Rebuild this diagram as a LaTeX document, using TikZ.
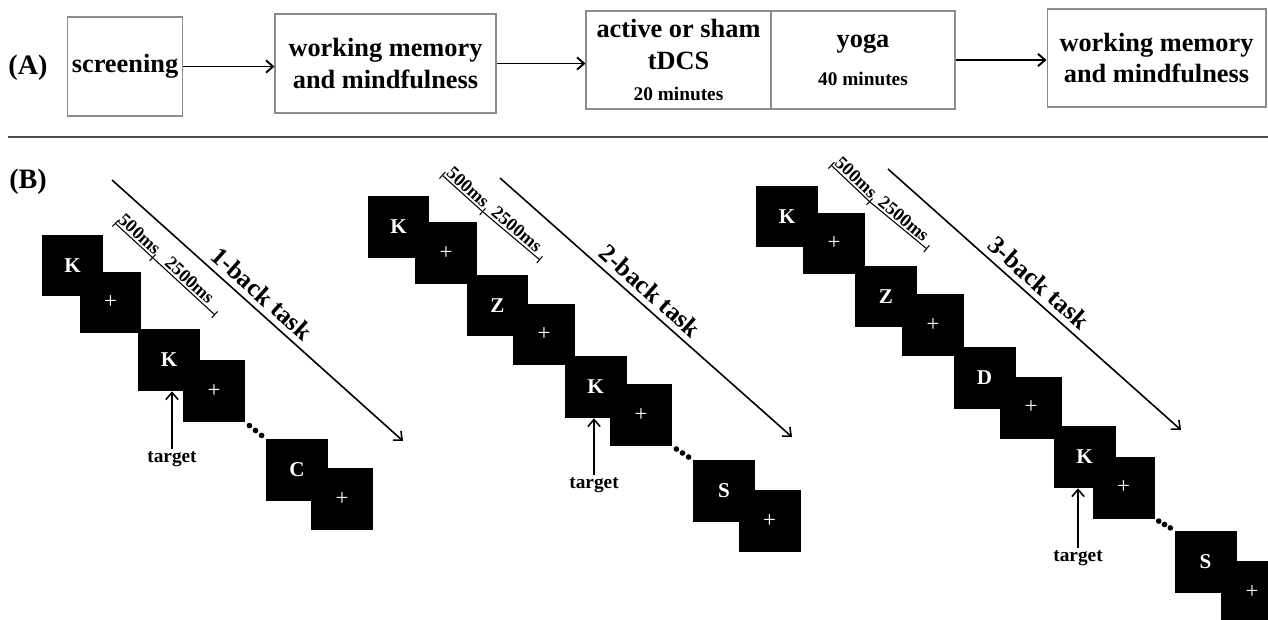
\documentclass[tikz,border=0pt]{standalone}
\usepackage{fontspec}
\setmainfont{Liberation Serif}
\usetikzlibrary{arrows.meta,calc}
\begin{document}
\begin{tikzpicture}[x=0.02cm,y=-0.02cm,>={Straight Barb[length=4pt,width=7pt]},
  box/.style={draw=black!45,line width=0.6pt,inner sep=2pt,align=center,font=\bfseries\fontsize{15}{18}\selectfont},
  stim/.style={fill=black,text=white,minimum size=1.24cm,inner sep=0pt,font=\bfseries\fontsize{12}{14}\selectfont},
  fix/.style={stim,font=\fontsize{13}{15}\selectfont},
  flow/.style={->,line width=1.1pt},
  time/.style={->,line width=0.9pt},
  tick/.style={line width=0.6pt},
  lbl/.style={font=\bfseries\fontsize{14.5}{17}\selectfont},
  ms/.style={font=\bfseries\fontsize{10.5}{12}\selectfont,inner sep=1pt}]
  \useasboundingbox (0,0) rectangle (1268,619);
  % (A) session
  \node[font=\bfseries\fontsize{16}{19}\selectfont] (la) at (28,68){(A)};
  \node[box,minimum width=2.3cm,minimum height=1.98cm] (b1) at (125,66.5){screening};
  \node[box,minimum width=4.42cm,minimum height=1.98cm] (b2) at (385.5,63.5){working memory\\and mindfulness};
  \node[box,minimum width=3.7cm,minimum height=1.96cm] (b3) at (678.5,60){active or sham\\tDCS\\{\fontsize{11}{13}\selectfont 20 minutes}};
  \node[box,minimum width=3.68cm,minimum height=1.96cm] (b4) at (863,60){yoga\\[4pt]{\fontsize{11}{13}\selectfont 40 minutes}};
  \node[box,minimum width=4.38cm,minimum height=1.96cm] (b5) at (1156.5,58){working memory\\and mindfulness};
  \draw[flow] (b1.east) -- (b1.east -| b2.west);
  \draw[flow] (b2.east) -- (b2.east -| b3.west);
  \draw[flow] (b4.east) -- (b4.east -| b5.west);
  \coordinate (r0) at (8,137);
  \coordinate (r1) at (1268,137);
  \draw[black!70,line width=1pt] (r0) -- (r1);
  % (B) n-back tasks
  \node[font=\bfseries\fontsize{16}{19}\selectfont] (lb) at (28,182){(B)};
  % 1-back
  \node[stim] (k1a) at (72.5,265.5){K};
  \node[fix] (p1a) at (110.5,302.5){+};
  \node[stim] (k1b) at (169,360){K};
  \node[fix] (p1b) at (214,391){+};
  \node[stim] (c1) at (297,470){C};
  \node[fix] (p1c) at (342,499){+};
  \foreach \f in {0.2,0.5,0.8}
    \fill ($(p1b.south east)!\f!(c1.north west)$) circle[radius=1.6pt];
  \node[ms,font=\bfseries\fontsize{11}{13}\selectfont] (t1) at (172,459){target};
  \draw[time] (t1.north) -- (t1.north |- k1b.south);
  \coordinate (a1s) at (112,180);
  \coordinate (a1e) at (403,441);
  \draw[time] (a1s) -- node[lbl,sloped,above,pos=0.48]{1-back task} (a1e);
  \coordinate (s1a) at (115,223);
  \coordinate (s1b) at (153,258);
  \coordinate (s1c) at (215,315);
  \draw[tick,{Bar[width=5pt]}-{Bar[width=5pt]}] (s1a) -- node[ms,sloped,above]{500ms} (s1b);
  \draw[tick,-{Bar[width=5pt]}] (s1b) -- node[ms,sloped,above]{2500ms} (s1c);
  % 2-back
  \node[stim] (k2a) at (398.5,227){K};
  \node[fix] (p2a) at (446,253){+};
  \node[stim] (z2) at (497.5,305.5){Z};
  \node[fix] (p2b) at (544,334.5){+};
  \node[stim] (k2b) at (595.5,387){K};
  \node[fix] (p2c) at (641,415){+};
  \node[stim] (s2) at (724,491){S};
  \node[fix] (p2d) at (769.5,521){+};
  \foreach \f in {0.2,0.5,0.8}
    \fill ($(p2c.south east)!\f!(s2.north west)$) circle[radius=1.6pt];
  \node[ms,font=\bfseries\fontsize{11}{13}\selectfont] (t2) at (594,485){target};
  \draw[time] (t2.north) -- (t2.north |- k2b.south);
  \coordinate (a2s) at (500,178);
  \coordinate (a2e) at (792,437);
  \draw[time] (a2s) -- node[lbl,sloped,above,pos=0.48]{2-back task} (a2e);
  \coordinate (s2a) at (442,175);
  \coordinate (s2b) at (483,212);
  \coordinate (s2c) at (540,260);
  \draw[tick,{Bar[width=5pt]}-{Bar[width=5pt]}] (s2a) -- node[ms,sloped,above]{500ms} (s2b);
  \draw[tick,-{Bar[width=5pt]}] (s2b) -- node[ms,sloped,above]{2500ms} (s2c);
  % 3-back
  \node[stim] (k3a) at (787,216.5){K};
  \node[fix] (p3a) at (834,243.5){+};
  \node[stim] (z3) at (886,296.5){Z};
  \node[fix] (p3b) at (933,325){+};
  \node[stim] (d3) at (984.5,378){D};
  \node[fix] (p3c) at (1031,407.5){+};
  \node[stim] (k3b) at (1084.5,457){K};
  \node[fix] (p3d) at (1123.5,487.5){+};
  \node[stim] (s3) at (1205.5,561.5){S};
  \node[fix] (p3e) at (1252,592){+};
  \foreach \f in {0.2,0.5,0.8}
    \fill ($(p3d.south east)!\f!(s3.north west)$) circle[radius=1.6pt];
  \node[ms,font=\bfseries\fontsize{11}{13}\selectfont] (t3) at (1078,558){target};
  \draw[time] (t3.north) -- (t3.north |- k3b.south);
  \coordinate (a3s) at (888,169);
  \coordinate (a3e) at (1181,430);
  \draw[time] (a3s) -- node[lbl,sloped,above,pos=0.48]{3-back task} (a3e);
  \coordinate (s3a) at (831,165);
  \coordinate (s3b) at (870,202);
  \coordinate (s3c) at (927,249);
  \draw[tick,{Bar[width=5pt]}-{Bar[width=5pt]}] (s3a) -- node[ms,sloped,above]{500ms} (s3b);
  \draw[tick,-{Bar[width=5pt]}] (s3b) -- node[ms,sloped,above]{2500ms} (s3c);
\end{tikzpicture}
\end{document}
